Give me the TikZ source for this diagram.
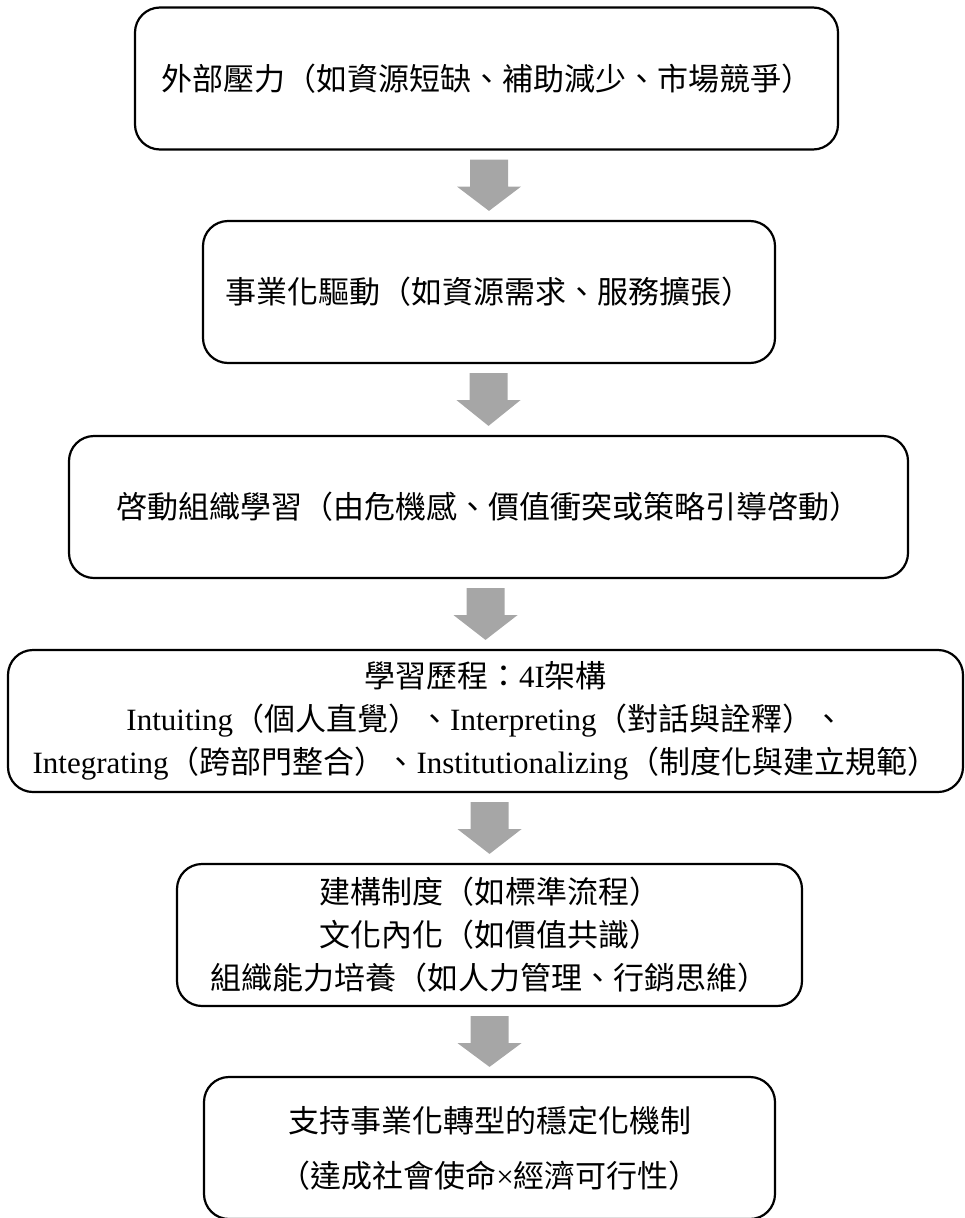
\documentclass[tikz,border=0pt]{standalone}
\usepackage{fontspec}
\setmainfont{Liberation Serif}
\newfontfamily\cjk{Noto Sans CJK TC}
\usetikzlibrary{calc}
\definecolor{arrowgray}{RGB}{166,166,166}
\newcommand\lt[1]{{\rmfamily #1}}
\newcommand\fatarrow[2]{%
  \fill[arrowgray] ($(#1.south -| #2.north)+(-19,-9)$) -- ++(38,0) -- ++(0,-27) -- ++(13,0)
    -- ($(#2.north)+(0,9)$) -- ($(#1.south -| #2.north)+(-32,-36)$) -- ++(13,0) -- cycle;}
\tikzset{
  box/.style={draw, line width=2.2pt, rounded corners=25pt, minimum height=142pt,
    align=center, inner sep=0pt, font=\cjk\fontsize{31}{43}\selectfont},
}
\begin{document}
\begin{tikzpicture}[x=1pt,y=1pt]
\useasboundingbox (0,0) rectangle (965,-1218);
\node[box, minimum width=703pt] (b1) at (486.5,-78.5) {外部壓力（如資源短缺、補助減少、市場競爭）};
\node[box, minimum width=572pt] (b2) at (489,-292) {事業化驅動（如資源需求、服務擴張）};
\node[box, minimum width=839pt] (b3) at (488.5,-507) {啓動組織學習（由危機感、價值衝突或策略引導啓動）};
\node[box, minimum width=955pt] (b4) at (485.5,-721) {學習歷程：\lt{4I}架構\\ \lt{Intuiting}（個人直覺）、\lt{Interpreting}（對話與詮釋）、\\ \lt{Integrating}（跨部門整合）、\lt{Institutionalizing}（制度化與建立規範）};
\node[box, minimum width=625pt] (b5) at (489.5,-935) {建構制度（如標準流程）\\文化內化（如價值共識）\\組織能力培養（如人力管理、行銷思維）};
\node[box, minimum width=571pt, font=\cjk\fontsize{31}{55}\selectfont] (b6) at (489.5,-1148) {支持事業化轉型的穩定化機制\\（達成社會使命\lt{×}經濟可行性）};
\fatarrow{b1}{b2}
\fatarrow{b2}{b3}
\fatarrow{b3}{b4}
\fatarrow{b4}{b5}
\fatarrow{b5}{b6}
\end{tikzpicture}
\end{document}
